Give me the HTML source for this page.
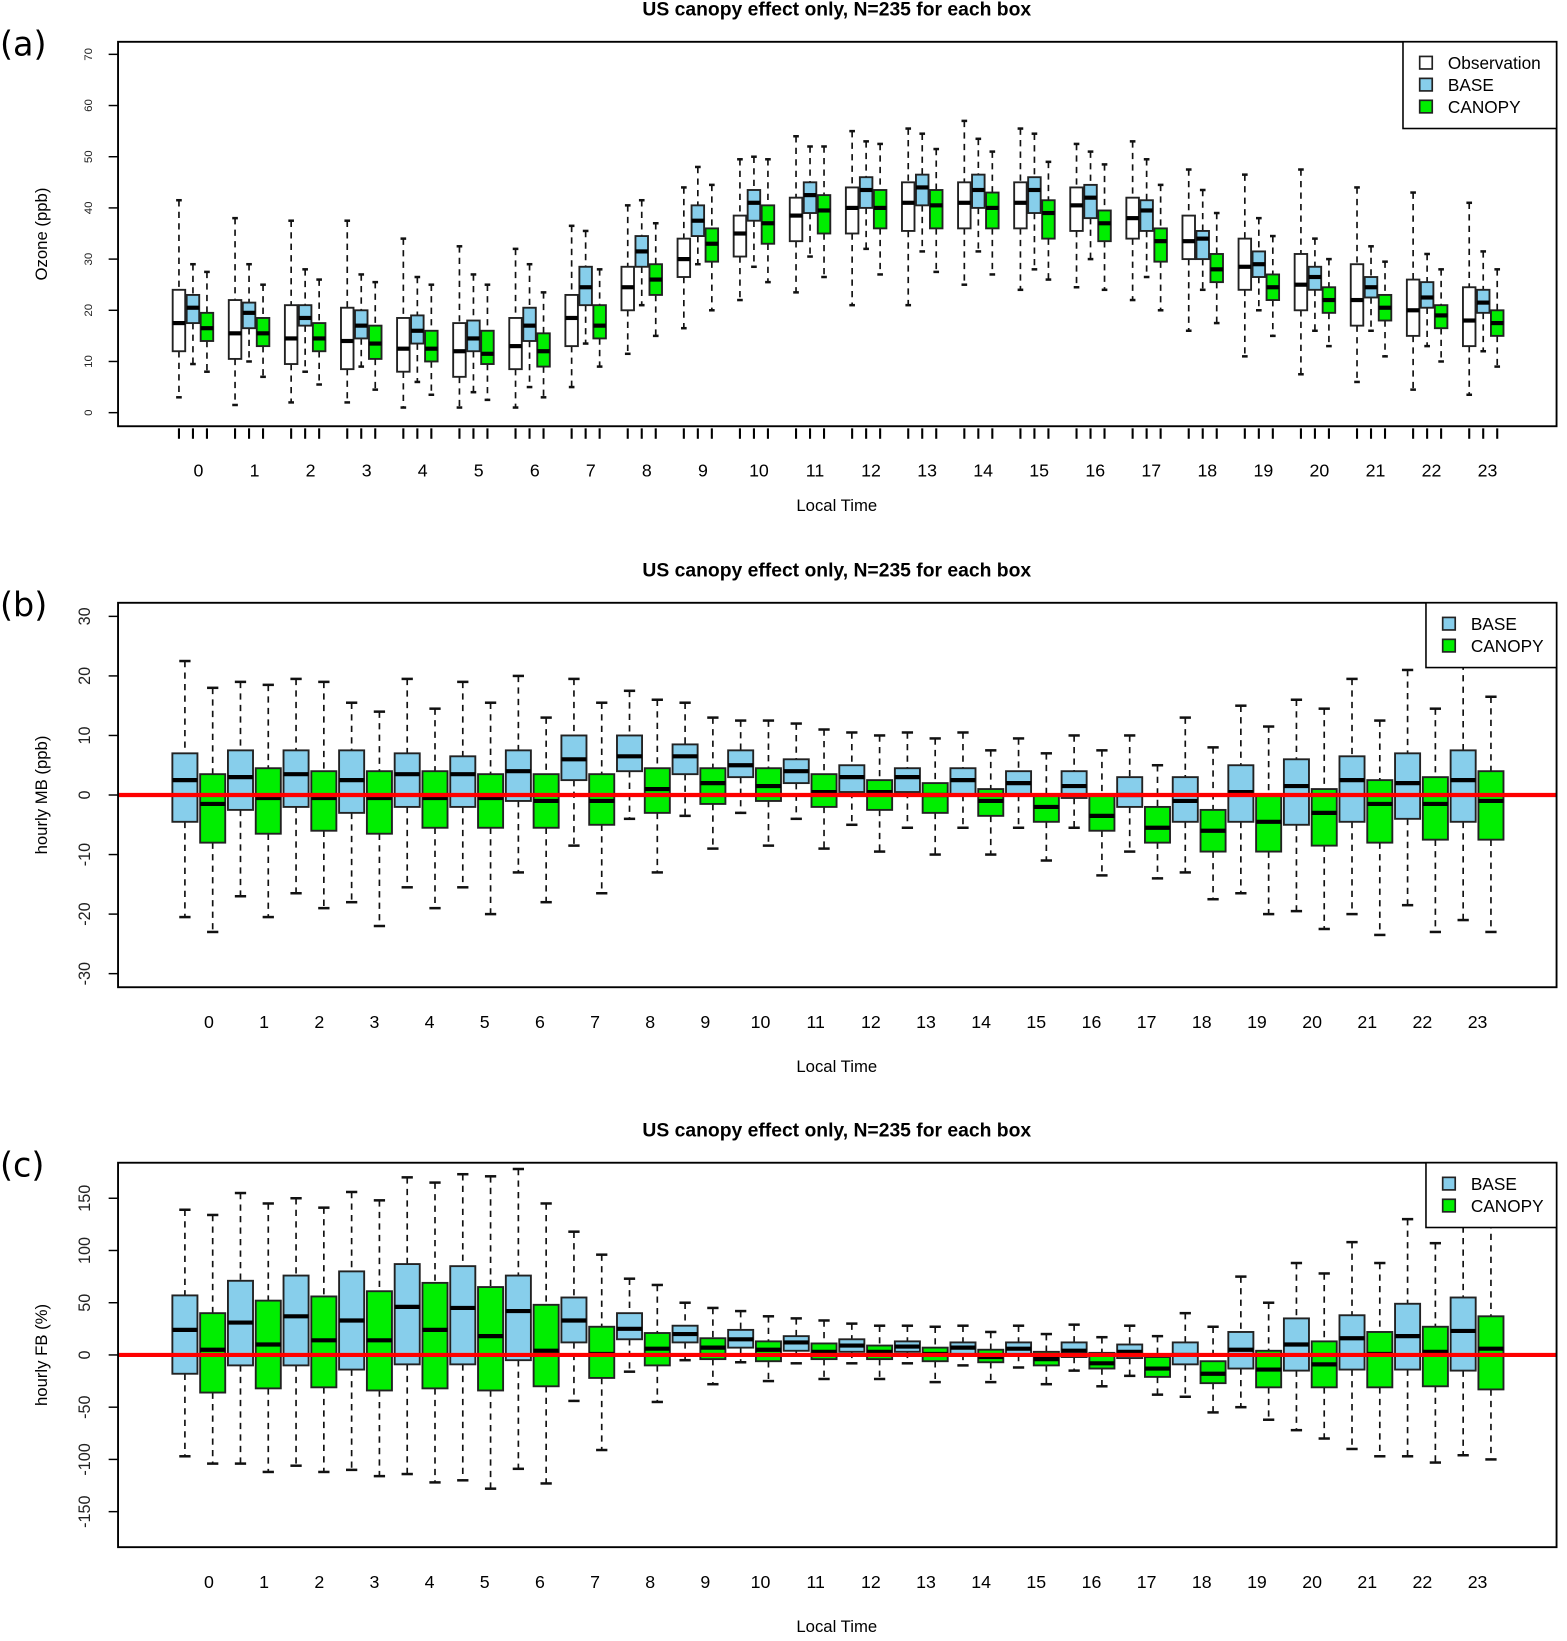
<!DOCTYPE html>
<html><head><meta charset="utf-8"><style>
html,body{margin:0;padding:0;background:#fff;}
svg{display:block;font-family:"Liberation Sans",sans-serif;}
</style></head><body>
<svg id="fig" width="1567" height="1641" viewBox="0 0 1500 1570.8" xmlns="http://www.w3.org/2000/svg"></svg>
<script>
// ---------- data: [min, q1, median, q3, max] per hour ----------
const hours = ["0","1","2","3","4","5","6","7","8","9","10","11","12","13","14","15","16","17","18","19","20","21","22","23"];
const aObs = [[3,12,17.5,24,41.5],[1.5,10.5,15.5,22,38],[2,9.5,14.5,21,37.5],[2,8.5,14,20.5,37.5],[1,8,12.5,18.5,34],[1,7,12,17.5,32.5],[1,8.5,13,18.5,32],[5,13,18.5,23,36.5],[11.5,20,24.5,28.5,40.5],[16.5,26.5,30,34,44],[22,30.5,35,38.5,49.5],[23.5,33.5,38.5,42,54],[21,35,40,44,55],[21,35.5,41,45,55.5],[25,36,41,45,57],[24,36,41,45,55.5],[24.5,35.5,40.5,44,52.5],[22,34,38,42,53],[16,30,33.5,38.5,47.5],[11,24,28.5,34,46.5],[7.5,20,25,31,47.5],[6,17,22,29,44],[4.5,15,20,26,43],[3.5,13,18,24.5,41]];
const aBase = [[9.5,17.5,20.5,23,29],[10,16.5,19.5,21.5,29],[8,17,18.5,21,28],[9,14.5,17,20,27],[6,13.5,16,19,26.5],[4,12,14.5,18,27],[5,14,17,20.5,29],[13.5,21,24.5,28.5,35.5],[21,28.5,31.5,34.5,41.5],[29,34.5,37.5,40.5,48],[28.5,37.5,41,43.5,50],[30.5,39,42.5,45,52],[32,40,43.5,46,53],[31.5,40.5,44,46.5,54.5],[31.5,40,43.5,46.5,53.5],[28,39,43.5,46,54.5],[30,38,42,44.5,51],[26.5,35.5,39.5,41.5,49.5],[24,30,34,35.5,43.5],[20,26.5,29,31.5,38],[16,24,26.5,28.5,34],[16,22.5,24.5,26.5,32.5],[13,20.5,22.5,25.5,31],[12,19.5,21.5,24,31.5]];
const aCan = [[8,14,16.5,19.5,27.5],[7,13,15.5,18.5,25],[5.5,12,14.5,17.5,26],[4.5,10.5,13.5,17,25.5],[3.5,10,12.5,16,25],[2.5,9.5,11.5,16,25],[3,9,12,15.5,23.5],[9,14.5,17,21,28],[15,23,26,29,37],[20,29.5,33,36,44.5],[25.5,33,37,40.5,49.5],[26.5,35,39.5,42.5,52],[27,36,40,43.5,52.5],[27.5,36,40.5,43.5,51.5],[27,36,40,43,51],[26,34,39,41.5,49],[24,33.5,37,39.5,48.5],[20,29.5,33.5,36,44.5],[17.5,25.5,28,31,39],[15,22,24.5,27,34.5],[13,19.5,22,24.5,30],[11,18,20.5,23,29.5],[10,16.5,19,21,28],[9,15,17.5,20,28]];
const bBase = [[-20.5,-4.5,2.5,7,22.5],[-17,-2.5,3,7.5,19],[-16.5,-2,3.5,7.5,19.5],[-18,-3,2.5,7.5,15.5],[-15.5,-2,3.5,7,19.5],[-15.5,-2,3.5,6.5,19],[-13,-1,4,7.5,20],[-8.5,2.5,6,10,19.5],[-4,4,6.5,10,17.5],[-3.5,3.5,6.5,8.5,15.5],[-3,3,5,7.5,12.5],[-4,2,4,6,12],[-5,0.5,3,5,10.5],[-5.5,0.5,3,4.5,10.5],[-5.5,0,2.5,4.5,10.5],[-5.5,0,2,4,9.5],[-5.5,-0.5,1.5,4,10],[-9.5,-2,0,3,10],[-13,-4.5,-1,3,13],[-16.5,-4.5,0.5,5,15],[-19.5,-5,1.5,6,16],[-20,-4.5,2.5,6.5,19.5],[-18.5,-4,2,7,21],[-21,-4.5,2.5,7.5,24]];
const bCan = [[-23,-8,-1.5,3.5,18],[-20.5,-6.5,-0.5,4.5,18.5],[-19,-6,-0.5,4,19],[-22,-6.5,-0.5,4,14],[-19,-5.5,-0.5,4,14.5],[-20,-5.5,-0.5,3.5,15.5],[-18,-5.5,-1,3.5,13],[-16.5,-5,-1,3.5,15.5],[-13,-3,1,4.5,16],[-9,-1.5,2,4.5,13],[-8.5,-1,1.5,4.5,12.5],[-9,-2,0.5,3.5,11],[-9.5,-2.5,0.5,2.5,10],[-10,-3,0,2,9.5],[-10,-3.5,-1,1,7.5],[-11,-4.5,-2,0,7],[-13.5,-6,-3.5,0,7.5],[-14,-8,-5.5,-2,5],[-17.5,-9.5,-6,-2.5,8],[-20,-9.5,-4.5,0,11.5],[-22.5,-8.5,-3,1,14.5],[-23.5,-8,-1.5,2.5,12.5],[-23,-7.5,-1.5,3,14.5],[-23,-7.5,-1,4,16.5]];
const cBase = [[-97,-18,24,57,139],[-104,-10,31,71,155],[-106,-10,37,76,150],[-110,-14,33,80,156],[-114,-9,46,87,170],[-120,-9,45,85,173],[-109,-5,42,76,178],[-44,12,33,55,118],[-16,15,25,40,73],[-5,12,20,28,50],[-7,7,15,24,42],[-8,4,12,18,35],[-8,3,9,15,30],[-8,3,8,13,28],[-10,1,7,12,28],[-12,0,6,12,28],[-15,-2,4,12,29],[-20,-3,3,10,28],[-40,-9,0,12,40],[-50,-13,5,22,75],[-72,-15,10,35,88],[-90,-14,16,38,108],[-97,-14,18,49,130],[-96,-15,23,55,145]];
const cCan = [[-104,-36,5,40,134],[-112,-32,10,52,145],[-112,-31,14,56,141],[-116,-34,14,61,148],[-122,-32,24,69,165],[-128,-34,18,65,171],[-123,-30,4,48,145],[-91,-22,1,27,96],[-45,-10,6,21,67],[-28,-4,7,16,45],[-25,-6,5,13,37],[-23,-4,3,11,33],[-23,-4,3,9,28],[-26,-6,1,7,27],[-26,-7,-2,5,22],[-28,-10,-4,3,20],[-30,-13,-8,2,17],[-38,-21,-13,-2,18],[-55,-27,-18,-6,27],[-62,-31,-14,4,50],[-80,-31,-9,13,78],[-97,-31,1,22,88],[-103,-30,3,27,107],[-100,-33,6,37,127]];
const aTicks = [0,10,20,30,40,50,60,70];
const bTicks = [-30,-20,-10,0,10,20,30];
const cTicks = [-150,-100,-50,0,50,100,150];

const NS = "http://www.w3.org/2000/svg";
const svg = document.getElementById("fig");
function mk(tag, attrs, parent, text){
  const e = document.createElementNS(NS, tag);
  for (const k in attrs) e.setAttribute(k, attrs[k]);
  if (text !== undefined) e.textContent = text;
  (parent || svg).appendChild(e);
  return e;
}
const COL = {obs:"#ffffff", base:"#87ceeb", can:"#00ee00"};

function drawBox(g, cx, w, st, fill, yf, name){
  const grp = mk("g", {}, g);
  
  
  const cap = w*0.45;
  mk("line", {x1:cx, x2:cx, y1:yf(st[4]), y2:yf(st[3]), stroke:"#111", "stroke-width":1.6, "stroke-dasharray":"6,5"}, grp);
  mk("line", {x1:cx, x2:cx, y1:yf(st[1]), y2:yf(st[0]), stroke:"#111", "stroke-width":1.6, "stroke-dasharray":"6,5"}, grp);
  mk("line", {x1:cx-cap/2, x2:cx+cap/2, y1:yf(st[4]), y2:yf(st[4]), stroke:"#111", "stroke-width":2.4}, grp);
  mk("line", {x1:cx-cap/2, x2:cx+cap/2, y1:yf(st[0]), y2:yf(st[0]), stroke:"#111", "stroke-width":2.4}, grp);
  mk("rect", {x:cx-w/2, y:yf(st[3]), width:w, height:yf(st[1])-yf(st[3]), fill:fill, stroke:"#222", "stroke-width":1.8}, grp);
  mk("line", {x1:cx-w/2, x2:cx+w/2, y1:yf(st[2]), y2:yf(st[2]), stroke:"#000", "stroke-width":4}, grp);
}

function frame(top, bottom, label, title, ylab, ticks, yf, tickSize, tickX){
  const g = mk("g", {});
  
  
  const t = mk("text", {x:801, y:top-25, "text-anchor":"middle", "font-size":18.5, "font-weight":"bold"}, g, title);
  
  
  const pl = mk("text", {x:0, y:top+13, "font-size":32, "font-family":"'DejaVu Sans','Liberation Sans',sans-serif"}, g, label);
  
  
  const yl = mk("text", {x:0, y:0, transform:`translate(45,${(top+bottom)/2}) rotate(-90)`, "text-anchor":"middle", "font-size":16}, g, ylab);
  
  
  ticks.forEach(v=>{
    mk("line", {x1:104, x2:113, y1:yf(v), y2:yf(v), stroke:"#000", "stroke-width":1.4}, g);
    const tl = mk("text", {x:0, y:0, transform:`translate(${tickX},${yf(v)}) rotate(-90)`, "text-anchor":"middle", "font-size":tickSize, fill:"#222"}, g, String(v));
    
    
  });
  const xt = mk("text", {x:801, y:bottom+81, "text-anchor":"middle", "font-size":16}, g, "Local Time");
  
  
  return g;
}

function legend(g, x, top, items){
  const lg = mk("g", {}, g);
  
  
  const h = items.length*21 + 20;
  mk("rect", {x:x, y:top, width:1490-x, height:h, fill:"#fff", stroke:"#000", "stroke-width":1.5}, lg);
  items.forEach((it,i)=>{
    const cy = top + 20 + i*21;
    const e = mk("g", {}, lg);
    
    
    mk("rect", {x:x+16, y:cy-6, width:12, height:12, fill:it[1], stroke:"#222", "stroke-width":1.6}, e);
    mk("text", {x:x+43, y:cy+6, "font-size":16.5}, e, it[0]);
  });
}

// ---------- Panel (a) ----------
(function(){
  const top=40, bottom=408;
  const yf = v => 395 - v*4.9;
  const xf = (k,j) => 171.3 + k*53.7 + j*13.4;
  const g = frame(top,bottom,"(a)","US canopy effect only, N=235 for each box","Ozone (ppb)",aTicks,yf,11,88);
  const series = [[aObs,COL.obs,"obs"],[aBase,COL.base,"base"],[aCan,COL.can,"canopy"]];
  hours.forEach((h,k)=>{
    series.forEach((s,j)=>{
      const x = xf(k,j);
      drawBox(g, x, 12, s[0][k], s[1], yf, "box-"+s[2]+"-h"+h);
      mk("line", {x1:x, x2:x, y1:410, y2:420, stroke:"#000", "stroke-width":2}, g);
    });
    const lb = mk("text", {x:190 + k*53.65, y:456, "text-anchor":"middle", "font-size":17}, g, h);
    
    
  });
  mk("rect", {x:113, y:top, width:1377, height:bottom-top, fill:"none", stroke:"#000", "stroke-width":1.8}, g);
  legend(g, 1343, 40, [["Observation",COL.obs],["BASE",COL.base],["CANOPY",COL.can]]);
})();

// ---------- Panels (b),(c) ----------
function twoSeries(top,bottom,label,ylab,ticks,yf,base,can){
  const xf = i => 177 + i*26.6;
  const g = frame(top,bottom,label,"US canopy effect only, N=235 for each box",ylab,ticks,yf,15.5,86);
  hours.forEach((h,k)=>{
    drawBox(g, xf(k*2), 24, base[k], COL.base, yf, "box-base-h"+h);
    drawBox(g, xf(k*2+1), 24, can[k], COL.can, yf, "box-canopy-h"+h);
    const lb = mk("text", {x:200+k*52.8, y:bottom+39, "text-anchor":"middle", "font-size":17}, g, h);
    
    
  });
  const zl = mk("line", {x1:113, x2:1490, y1:yf(0), y2:yf(0), stroke:"#ff0000", "stroke-width":4}, g);
  
  
  mk("rect", {x:113, y:top, width:1377, height:bottom-top, fill:"none", stroke:"#000", "stroke-width":1.8}, g);
  legend(g, 1365, top, [["BASE",COL.base],["CANOPY",COL.can]]);
}
twoSeries(577,945,"(b)","hourly MB (ppb)",bTicks,v=>761-v*5.7,bBase,bCan);
twoSeries(1113,1481,"(c)","hourly FB (%)",cTicks,v=>1297-v,cBase,cCan);
</script>
</body></html>
